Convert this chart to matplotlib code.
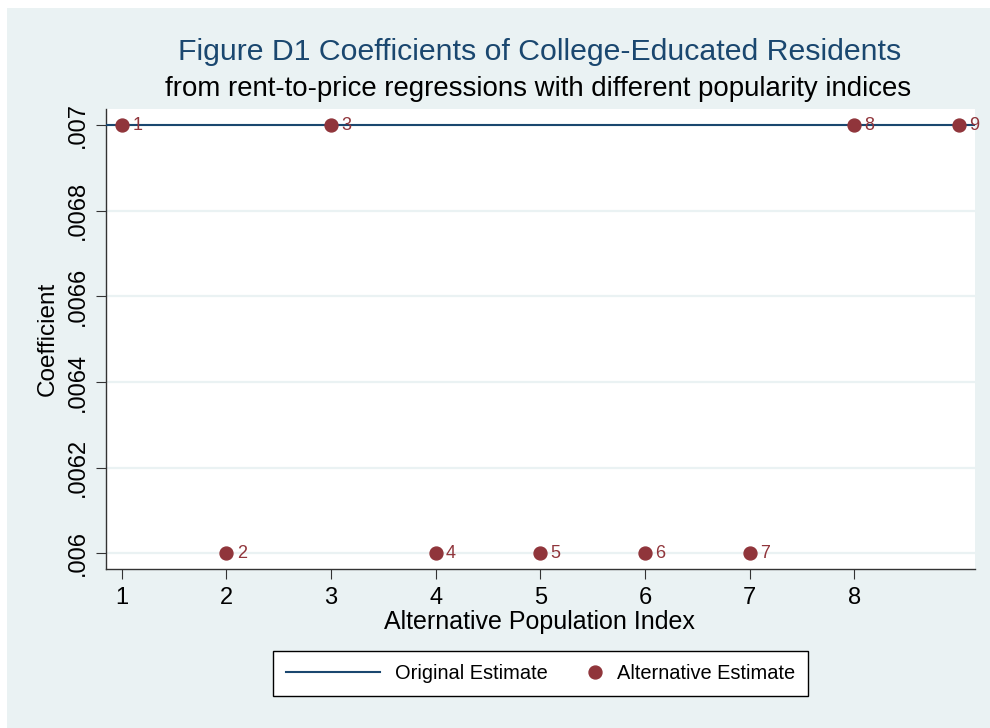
import matplotlib.pyplot as plt
from matplotlib.patches import Rectangle
from matplotlib.legend_handler import HandlerLine2D

plt.rcParams['font.family'] = ['Liberation Sans', 'DejaVu Sans']

# data
index = [1, 2, 3, 4, 5, 6, 7, 8, 9]
alt_estimate = [0.007, 0.006, 0.007, 0.006, 0.006, 0.006, 0.006, 0.007, 0.007]
orig_estimate = 0.007
x_ticks = [1, 2, 3, 4, 5, 6, 7, 8]
y_ticks = [0.006, 0.0062, 0.0064, 0.0066, 0.0068, 0.007]
y_ticklabels = ['.006', '.0062', '.0064', '.0066', '.0068', '.007']

navy = '#1A476F'
maroon = '#90353B'
bg = '#EAF2F3'


class RightMarkerHandler(HandlerLine2D):
    # put the legend marker near the text instead of in the middle of the handle
    def get_xdata(self, legend, xdescent, ydescent, width, height, fontsize):
        m = -xdescent + width - 5
        return [m - 1, m + 1], [m]


fig = plt.figure(figsize=(9.9, 7.28), dpi=100, facecolor='white')
fig.patches.append(Rectangle((7 / 990, 0), 1, 720 / 728, transform=fig.transFigure,
                             facecolor=bg, edgecolor='none', zorder=-10))

ax = fig.add_axes([0.1068, 0.2184, 0.878, 0.6319])
ax.set_facecolor('white')

line = ax.axhline(orig_estimate, color=navy, lw=1.5, zorder=3, label='Original Estimate')
pts, = ax.plot(index, alt_estimate, 'o', color=maroon, ms=9.3, zorder=4,
               label='Alternative Estimate', linestyle='none')
for xi, yi in zip(index, alt_estimate):
    ax.annotate(str(xi), (xi, yi), xytext=(7.5, 0), textcoords='offset points',
                va='center', ha='left', color=maroon, fontsize=13, zorder=5)

ax.set_xlim(0.847, 9.153)
ax.set_ylim(0.0059634, 0.0070374)
ax.set_xticks(x_ticks)
ax.set_yticks(y_ticks)
ax.set_yticklabels(y_ticklabels, rotation=90, va='center')
ax.tick_params(axis='both', direction='out', length=7, width=0.8, labelsize=17, color='#333333')
ax.tick_params(axis='y', pad=5)
ax.tick_params(axis='x', pad=6)
ax.grid(axis='y', color=bg, lw=1.6, zorder=1)
ax.set_axisbelow(True)
for s in ['top', 'right']:
    ax.spines[s].set_visible(False)
for s in ['left', 'bottom']:
    ax.spines[s].set_color('#333333')
    ax.spines[s].set_linewidth(1.0)

fig.text(0.545, 0.9286, 'Figure D1 Coefficients of College-Educated Residents',
         ha='center', va='center', color=navy, fontsize=21.8)
fig.text(0.543, 0.8777, 'from rent-to-price regressions with different popularity indices',
         ha='center', va='center', color='black', fontsize=19.9)
fig.text(0.0485, 0.534, 'Coefficient', rotation=90, ha='center', va='center', fontsize=17.5)
fig.text(0.545, 1 - 622 / 728, 'Alternative Population Index', ha='center', va='center', fontsize=18)

leg = fig.legend(handles=[line, pts], loc='center', bbox_to_anchor=(0.546, 0.0742),
                 ncol=2, fontsize=14.4, frameon=True, fancybox=False, edgecolor='black',
                 framealpha=1, handlelength=4.7, columnspacing=-2.0, borderpad=0.65,
                 handletextpad=0.75, handler_map={pts: RightMarkerHandler(numpoints=1)})
leg.get_frame().set_linewidth(1.0)
leg.get_frame().set_facecolor('white')

fig.savefig('out.png', dpi=100, facecolor=fig.get_facecolor())
